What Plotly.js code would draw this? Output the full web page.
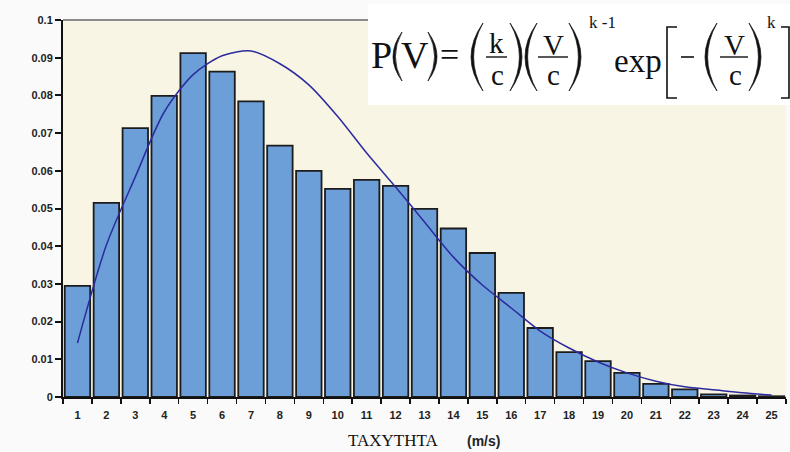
<!DOCTYPE html>
<html><head><meta charset="utf-8">
<script src="https://cdn.plot.ly/plotly-3.0.1.min.js"></script>
<style>html,body{margin:0;padding:0;background:#fafafa}</style></head>
<body><div id="chart" style="width:790px;height:452px"></div>
<script>
const speeds = ['1','2','3','4','5','6','7','8','9','10','11','12','13','14','15','16','17','18','19','20','21','22','23','24','25'];
const frequency = [0.0295,0.0515,0.0713,0.0799,0.0912,0.0863,0.0784,0.0667,0.0600,0.0552,0.0576,0.0560,0.0499,0.0447,0.0382,0.0276,0.0183,0.0119,0.0095,0.0064,0.0035,0.0020,0.0007,0.0004,0.0002];
const weibullFit = [0.0143,0.0403,0.0584,0.0756,0.0855,0.0905,0.0918,0.0884,0.0828,0.0744,0.0647,0.0557,0.0464,0.0371,0.0297,0.0236,0.0175,0.0130,0.0093,0.0064,0.0042,0.0027,0.0019,0.0011,0.0005];
const xTitle = 'ΤΑΧΥΤΗΤΑ';
const xUnit = '(m/s)';

const W = 790, H = 452, ML = 63, MR = 4, MT = 20, MB = 55;
const PW = W - ML - MR, PH = H - MT - MB;
const X = px => (px - ML) / PW;
const Y = py => (H - MB - py) / PH;
const serif = 'Liberation Serif, Times New Roman, serif';

const shapes = [];
const annotations = [];
// top frame line
shapes.push({type:'line', xref:'paper', yref:'paper', x0:0, x1:1, y0:1, y1:1, line:{color:'#8c8c8c', width:2}, layer:'above'});
// white formula box
shapes.push({type:'rect', xref:'paper', yref:'paper', x0:X(368), x1:X(792), y0:Y(105), y1:Y(4), fillcolor:'#ffffff', line:{width:0}, layer:'above'});

function paren(tipX, yTop, yBot, bulgeX, th){
  const mid = (yTop + yBot) / 2;
  const dir = bulgeX < tipX ? 1 : -1;
  const cOut = 2*bulgeX - tipX;
  const cIn = 2*(bulgeX + dir*th) - tipX;
  const p = `M${X(tipX)},${Y(yTop)} Q${X(cOut)},${Y(mid)} ${X(tipX)},${Y(yBot)} ` +
            `Q${X(cIn)},${Y(mid)} ${X(tipX)},${Y(yTop)} Z`;
  shapes.push({type:'path', xref:'paper', yref:'paper', path:p, fillcolor:'#111', line:{color:'#111', width:0.7}, layer:'above'});
}
function hline(x0, x1, y, w){
  shapes.push({type:'line', xref:'paper', yref:'paper', x0:X(x0), x1:X(x1), y0:Y(y), y1:Y(y), line:{color:'#111', width:w||1.4}, layer:'above'});
}
function txt(s, cx, baseline, size, fam){
  annotations.push({text:s, xref:'paper', yref:'paper', x:X(cx), y:Y(baseline - 0.34*size), xanchor:'center', yanchor:'middle', borderpad:0, showarrow:false, font:{family:fam||serif, size:size, color:'#111'}});
}

// P(V) =
txt('P', 381, 68, 38);
paren(402, 32, 81, 393, 2.4);
txt('V', 415, 68, 38);
paren(428, 32, 81, 437, 2.4);
txt('=', 449, 66, 34);
// (k/c)
paren(483, 23, 91, 471, 2.6);
txt('k', 496, 53, 29);
hline(486, 507, 57);
txt('c', 497, 85, 29);
paren(510, 23, 91, 522, 2.6);
// (V/c)^{k-1}
paren(537, 23, 91, 525, 2.6);
txt('V', 553, 55, 29);
hline(538, 568, 57);
txt('c', 553, 85, 29);
paren(569, 23, 91, 581, 2.6);
txt('k -1', 602, 28, 17);
// exp[ -(V/c)^k ]
txt('exp', 638, 72, 33);
shapes.push({type:'path', xref:'paper', yref:'paper', path:`M${X(677)},${Y(27)} L${X(667)},${Y(27)} L${X(667)},${Y(98)} L${X(677)},${Y(98)}`, line:{color:'#111', width:1.6}, layer:'above'});
hline(681, 694, 57, 1.6);
paren(717, 23, 91, 705, 2.6);
txt('V', 734, 55, 29);
hline(720, 748, 57);
txt('c', 735, 85, 29);
paren(749, 23, 91, 761, 2.6);
txt('k', 771, 28, 17);
shapes.push({type:'path', xref:'paper', yref:'paper', path:`M${X(781)},${Y(27)} L${X(789)},${Y(27)} L${X(789)},${Y(98)} L${X(781)},${Y(98)}`, line:{color:'#111', width:1.6}, layer:'above'});

// x title
txt(xTitle, 393, 446, 17);
annotations.push({text:'<b>'+xUnit+'</b>', xref:'paper', yref:'paper', x:X(483), y:Y(446 - 0.34*14), xanchor:'center', yanchor:'middle', borderpad:0, showarrow:false, font:{family:'Liberation Sans, Arial, sans-serif', size:14, color:'#222'}});

const traces = [
  {type:'bar', x:speeds, y:frequency, marker:{color:'#6c9fd8', line:{color:'#1c1c1c', width:1.8}}, hoverinfo:'x+y'},
  {type:'scatter', mode:'lines', x:speeds, y:weibullFit, line:{color:'#2b2b9e', width:1.5, shape:'spline', smoothing:0.8}, hoverinfo:'x+y'}
];

const layout = {
  width:W, height:H,
  margin:{l:ML, r:MR, t:MT, b:MB, pad:0},
  paper_bgcolor:'#fafafa', plot_bgcolor:'#f8f5e5',
  showlegend:false, bargap:0.12,
  xaxis:{type:'category', range:[-0.5,24.5], tickson:'boundaries', ticks:'outside', ticklen:5, tickwidth:1.5, tickcolor:'#111',
         showline:true, linecolor:'#111', linewidth:2, showgrid:false, zeroline:false, ticklabelstandoff:7,
         tickfont:{family:'Liberation Sans, Arial, sans-serif', size:11, color:'#222', weight:'bold'}},
  yaxis:{range:[0,0.1], dtick:0.01, tick0:0, ticks:'outside', ticklen:6, tickwidth:2, tickcolor:'#111',
         showline:true, linecolor:'#111', linewidth:2, showgrid:false, zeroline:false,
         tickfont:{family:'Liberation Sans, Arial, sans-serif', size:11, color:'#222', weight:'bold'}},
  shapes:shapes, annotations:annotations
};
Plotly.newPlot('chart', traces, layout, {displayModeBar:false, staticPlot:true});
</script></body></html>
